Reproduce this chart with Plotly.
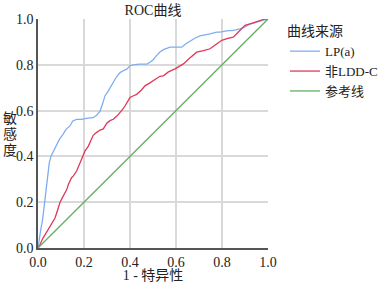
import plotly.graph_objects as go

lp_x = [0.0, 0.005, 0.012, 0.02, 0.028, 0.035, 0.042, 0.049, 0.056, 0.064, 0.071, 0.078, 0.086, 0.093, 0.108, 0.122, 0.139, 0.151, 0.168, 0.19, 0.216, 0.24, 0.255, 0.27, 0.284, 0.291, 0.302, 0.313, 0.324, 0.335, 0.349, 0.357, 0.372, 0.386, 0.4, 0.414, 0.44, 0.473, 0.487, 0.501, 0.515, 0.53, 0.545, 0.56, 0.574, 0.6, 0.625, 0.64, 0.661, 0.68, 0.704, 0.73, 0.748, 0.777, 0.791, 0.82, 0.849, 0.878, 0.9, 0.922, 0.945, 0.965, 0.98, 1.0]
lp_y = [0.0, 0.04, 0.08, 0.124, 0.2, 0.27, 0.33, 0.372, 0.4, 0.416, 0.432, 0.445, 0.46, 0.474, 0.495, 0.518, 0.533, 0.555, 0.562, 0.562, 0.567, 0.569, 0.58, 0.598, 0.64, 0.664, 0.68, 0.7, 0.715, 0.737, 0.757, 0.766, 0.775, 0.781, 0.796, 0.8, 0.803, 0.803, 0.811, 0.822, 0.84, 0.856, 0.866, 0.872, 0.877, 0.877, 0.877, 0.89, 0.905, 0.915, 0.926, 0.93, 0.935, 0.943, 0.943, 0.948, 0.95, 0.957, 0.965, 0.978, 0.985, 0.993, 0.995, 1.0]

ldl_x = [0.0, 0.009, 0.02, 0.03, 0.041, 0.052, 0.063, 0.074, 0.085, 0.096, 0.106, 0.117, 0.125, 0.132, 0.146, 0.153, 0.168, 0.183, 0.194, 0.204, 0.219, 0.23, 0.24, 0.255, 0.27, 0.284, 0.299, 0.313, 0.327, 0.342, 0.357, 0.368, 0.378, 0.4, 0.415, 0.429, 0.45, 0.465, 0.485, 0.501, 0.515, 0.53, 0.545, 0.567, 0.596, 0.614, 0.632, 0.66, 0.69, 0.72, 0.748, 0.775, 0.799, 0.825, 0.849, 0.871, 0.885, 0.9, 0.925, 0.951, 0.97, 0.987, 1.0]
ldl_y = [0.0, 0.015, 0.04, 0.058, 0.075, 0.095, 0.115, 0.131, 0.165, 0.2, 0.22, 0.241, 0.255, 0.277, 0.307, 0.314, 0.336, 0.372, 0.4, 0.423, 0.445, 0.47, 0.492, 0.505, 0.515, 0.52, 0.545, 0.556, 0.562, 0.575, 0.591, 0.605, 0.62, 0.657, 0.665, 0.671, 0.69, 0.708, 0.72, 0.73, 0.742, 0.75, 0.752, 0.769, 0.782, 0.795, 0.804, 0.83, 0.855, 0.862, 0.87, 0.89, 0.907, 0.915, 0.921, 0.943, 0.958, 0.972, 0.98, 0.987, 0.993, 1.0, 1.0]

ref_x = [0.0, 1.0]
ref_y = [0.0, 1.0]

series_names = ["LP(a)", "非LDD-C", "参考线"]
series_colors = ["#7FAEF0", "#E0385A", "#62AE62"]

tick_vals = [0.0, 0.2, 0.4, 0.6, 0.8, 1.0]
tick_text = ["0.0", "0.2", "0.4", "0.6", "0.8", "1.0"]
y_title_chars = ["敏", "感", "度"]

serif = "'Liberation Serif', 'Times New Roman', 'Noto Sans CJK SC', serif"

W, H = 384, 283
L, T = 38, 19
PW, PH = 230, 229

fig = go.Figure()
for xs, ys, name, col in zip([lp_x, ldl_x, ref_x], [lp_y, ldl_y, ref_y], series_names, series_colors):
    fig.add_trace(go.Scatter(x=xs, y=ys, mode="lines", name=name,
                             line=dict(color=col, width=1.3), cliponaxis=False))

fig.update_layout(
    width=W, height=H,
    margin=dict(l=L, r=W - L - PW, t=T, b=H - T - PH, autoexpand=False),
    paper_bgcolor="white", plot_bgcolor="white",
    font=dict(family=serif, size=14, color="#222"),
    title=dict(text="ROC曲线", x=(L + PW / 2) / W, xanchor="center", y=1 - 10 / H, yanchor="middle",
               font=dict(size=14, family=serif, color="#222")),
    showlegend=True,
    legend=dict(title=dict(text="曲线来源", side="top", font=dict(size=14)),
                x=(285 - L) / PW, xanchor="left", y=1 + 1 / PH, yanchor="top",
                font=dict(size=13), itemwidth=30, tracegroupgap=0,
                bgcolor="rgba(0,0,0,0)"),
)
fig.update_xaxes(range=[0, 1], tickvals=tick_vals, ticktext=tick_text,
                 showgrid=True, gridcolor="#D9D9D9", gridwidth=1.5,
                 showline=True, linecolor="#555", linewidth=1.5,
                 zeroline=False, ticks="", ticklen=0, automargin=False,
                 title=dict(text="1 - 特异性", standoff=0, font=dict(size=14)),
                 tickfont=dict(size=14))
fig.update_yaxes(range=[0, 1], tickvals=tick_vals, ticktext=tick_text,
                 showgrid=True, gridcolor="#D9D9D9", gridwidth=1.5,
                 showline=True, linecolor="#555", linewidth=1.5,
                 zeroline=False, ticks="", ticklen=0, automargin=False,
                 ticklabelstandoff=0,
                 tickfont=dict(size=14))
for ch, yp in zip(y_title_chars, [118, 134, 150]):
    fig.add_annotation(text=ch, xref="paper", yref="paper", x=(10 - L) / PW, y=(T + PH - yp) / PH,
                       xanchor="center", yanchor="middle", showarrow=False,
                       font=dict(size=14, family=serif, color="#222"))

fig.write_html("out.html", config={"displayModeBar": False},
               post_script="document.body.style.margin='0px';")
